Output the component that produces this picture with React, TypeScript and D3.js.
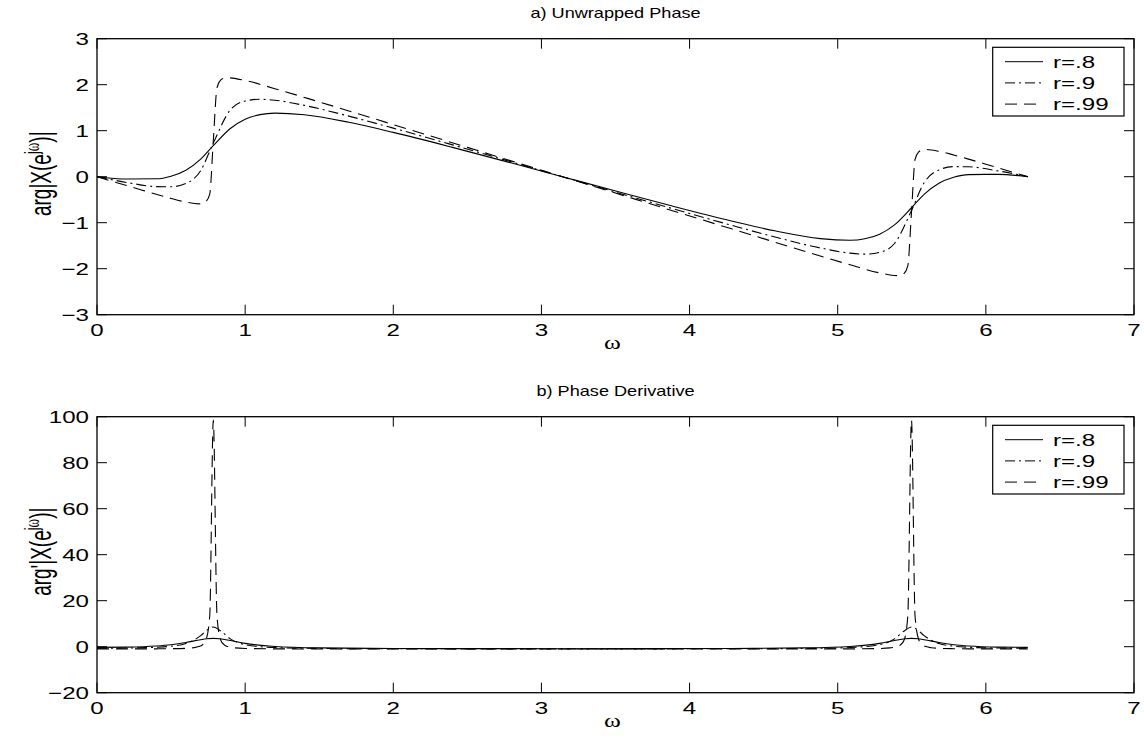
import React from 'react';
import * as d3 from 'd3';

// ---------- data ----------
const xTicks = [0, 1, 2, 3, 4, 5, 6, 7];
const phaseTicks = [-3, -2, -1, 0, 1, 2, 3];
const derivTicks = [-20, 0, 20, 40, 60, 80, 100];
const legendLabels = ['r=.8', 'r=.9', 'r=.99'];

// (a) unwrapped phase, r=.8 and r=.9 share this grid
const phaseOmegaA = [0, 0.2, 0.4, 0.5, 0.6, 0.7, 0.785, 0.9, 1.0, 1.1, 1.2, 1.4, 1.7, 2.0, 2.4, 2.8, 3.1416,
  3.4832, 3.8832, 4.2832, 4.5832, 4.8832, 5.0832, 5.1832, 5.2832, 5.3832, 5.4982, 5.5832, 5.6832, 5.7832, 5.8832, 6.0832, 6.2832];
const phaseR80 = [0, -0.051, -0.046, 0.011, 0.141, 0.383, 0.675, 1.048, 1.251, 1.35, 1.383, 1.347, 1.182, 0.963, 0.638, 0.296, 0,
  -0.296, -0.638, -0.963, -1.182, -1.347, -1.383, -1.35, -1.251, -1.048, -0.675, -0.383, -0.141, -0.011, 0.046, 0.051, 0];
const phaseR90 = [0, -0.125, -0.215, -0.219, -0.148, 0.132, 0.733, 1.452, 1.645, 1.683, 1.662, 1.55, 1.317, 1.056, 0.692, 0.32, 0,
  -0.32, -0.692, -1.056, -1.317, -1.55, -1.662, -1.683, -1.645, -1.452, -0.733, -0.132, 0.148, 0.219, 0.215, 0.125, 0];
// r=.99 needs a finer grid around the jumps
const phaseOmegaB = [0, 0.1, 0.2, 0.3, 0.4, 0.5, 0.6, 0.687, 0.712, 0.736, 0.761, 0.785, 0.81, 0.834, 0.859, 0.883, 1.0, 1.2, 1.5, 2.0, 2.5, 2.8, 3.1416,
  3.4832, 3.7832, 4.2832, 4.7832, 5.0832, 5.2832, 5.4, 5.424, 5.449, 5.473, 5.498, 5.522, 5.547, 5.571, 5.596, 5.683, 5.783, 5.883, 5.983, 6.083, 6.183, 6.2832];
const phaseR99 = [0, -0.097, -0.193, -0.288, -0.382, -0.472, -0.552, -0.591, -0.582, -0.539, -0.377, 0.78, 1.937, 2.1, 2.142, 2.151, 2.091, 1.914, 1.626, 1.133, 0.638, 0.339, 0,
  -0.339, -0.638, -1.133, -1.626, -1.914, -2.091, -2.151, -2.142, -2.1, -1.937, -0.78, 0.377, 0.539, 0.582, 0.591, 0.552, 0.472, 0.382, 0.288, 0.193, 0.097, 0];

// (b) phase derivative
const derivOmegaA = [0, 0.2, 0.4, 0.5, 0.6, 0.7, 0.74, 0.785, 0.83, 0.9, 1.0, 1.2, 1.5, 2.0, 2.5, 3.1416,
  3.7832, 4.2832, 4.7832, 5.0832, 5.2832, 5.3832, 5.4532, 5.4982, 5.5432, 5.5832, 5.6832, 5.7832, 5.8832, 6.0832, 6.2832];
const derivR80 = [-0.292, -0.174, 0.318, 0.869, 1.806, 3.048, 3.44, 3.61, 3.43, 2.663, 1.438, 0.104, -0.516, -0.776, -0.848, -0.87,
  -0.848, -0.776, -0.516, 0.104, 1.438, 2.663, 3.43, 3.61, 3.44, 3.048, 1.806, 0.869, 0.318, -0.174, -0.292];
const derivR90 = [-0.646, -0.577, -0.247, 0.219, 1.394, 4.797, 7.07, 8.552, 7.07, 3.403, 0.895, -0.378, -0.757, -0.893, -0.928, -0.938,
  -0.928, -0.893, -0.757, -0.378, 0.895, 3.403, 7.07, 8.552, 7.07, 4.797, 1.394, 0.219, -0.247, -0.577, -0.646];
const derivOmegaB = [0, 0.2, 0.4, 0.5, 0.6, 0.65, 0.687, 0.712, 0.736, 0.761, 0.785, 0.81, 0.834, 0.859, 0.883, 0.93, 1.0, 1.2, 1.5, 2.0, 3.1416,
  4.2832, 4.7832, 5.0832, 5.2832, 5.3532, 5.4, 5.424, 5.449, 5.473, 5.498, 5.522, 5.547, 5.571, 5.596, 5.633, 5.683, 5.783, 5.883, 6.083, 6.2832];
const derivR99 = [-0.966, -0.959, -0.924, -0.869, -0.701, -0.448, 0.041, 0.827, 3.022, 13.34, 98.5, 13.34, 3.022, 0.827, 0.041, -0.517, -0.777, -0.937, -0.976, -0.989, -0.99,
  -0.989, -0.976, -0.937, -0.777, -0.517, 0.041, 0.827, 3.022, 13.34, 98.5, 13.34, 3.022, 0.827, 0.041, -0.448, -0.701, -0.869, -0.924, -0.959, -0.966];

// ---------- layout ----------
const W = 1144;
const H = 738;
const LEFT = 97;
const RIGHT = 1134;
const PANEL_H = 276;
const SX = 1.42; // horizontal stretch of the text in the reference
const SANS = '"Liberation Sans", Arial, Helvetica, sans-serif';
const SERIF = '"Liberation Serif", "Times New Roman", serif';
const DASHES = ['none', '10,4,2,4', '12,7'];

type Series = { xs: number[]; ys: number[] };

function SText(props: { x: number; y: number; anchor?: string; size: number; rotate?: boolean; family?: string; sx?: number; children: React.ReactNode }) {
  const { x, y, anchor = 'start', size, rotate, family = SANS, sx = SX, children } = props;
  return (
    <text
      transform={`translate(${x},${y}) scale(${sx},1)${rotate ? ' rotate(-90)' : ''}`}
      textAnchor={anchor}
      fontSize={size}
      fontFamily={family}
      fill="#000"
    >
      {children}
    </text>
  );
}

function Panel(props: {
  top: number;
  yDomain: [number, number];
  yTicks: number[];
  title: string;
  prime: boolean;
  series: Series[];
}) {
  const { top, yDomain, yTicks, title, prime, series } = props;
  const x = d3.scaleLinear().domain([0, 7]).range([LEFT, RIGHT]);
  const y = d3.scaleLinear().domain(yDomain).range([top + PANEL_H, top]);
  const line = d3
    .line<[number, number]>()
    .x((d) => x(d[0]))
    .y((d) => y(d[1]))
    .curve(d3.curveMonotoneX);
  const bottom = top + PANEL_H;
  const tickLen = 10;
  const fmt = (v: number) => (v < 0 ? '\u2212' + Math.abs(v) : String(v));
  const legTop = top + 8.6;
  return (
    <g>
      {/* title */}
      <SText x={(LEFT + RIGHT) / 2} y={top - 21} anchor="middle" size={14.5} sx={1.25}>
        {title}
      </SText>
      {/* curves */}
      {series.map((s, i) => (
        <path
          key={i}
          d={line(s.xs.map((v, k) => [v, s.ys[k]] as [number, number])) || ''}
          fill="none"
          stroke="#000"
          strokeWidth={1.1}
          strokeDasharray={DASHES[i]}
        />
      ))}
      {/* box */}
      <rect x={LEFT} y={top} width={RIGHT - LEFT} height={PANEL_H} fill="none" stroke="#000" strokeWidth={1.3} />
      {/* x ticks */}
      {xTicks.map((t) => (
        <g key={'x' + t}>
          <line x1={x(t)} x2={x(t)} y1={bottom} y2={bottom - tickLen} stroke="#000" />
          <line x1={x(t)} x2={x(t)} y1={top} y2={top + tickLen} stroke="#000" />
          <SText x={x(t)} y={bottom + 21} anchor="middle" size={17}>
            {String(t)}
          </SText>
        </g>
      ))}
      {/* y ticks */}
      {yTicks.map((t) => (
        <g key={'y' + t}>
          <line x1={LEFT} x2={LEFT + tickLen} y1={y(t)} y2={y(t)} stroke="#000" />
          <line x1={RIGHT} x2={RIGHT - tickLen} y1={y(t)} y2={y(t)} stroke="#000" />
          <SText x={89} y={y(t) + 6} anchor="end" size={17}>
            {fmt(t)}
          </SText>
        </g>
      ))}
      {/* x label */}
      <SText x={(LEFT + RIGHT) / 2 - 3} y={bottom + 34} anchor="middle" size={18} family={SERIF}>
        ω
      </SText>
      {/* y label */}
      <SText x={51} y={top + PANEL_H / 2 - 3} anchor="middle" size={19} sx={1.55} rotate>
        {prime ? "arg'|X(e" : 'arg|X(e'}
        <tspan dy={-8} fontSize={13}>j</tspan>
        <tspan fontSize={13} fontFamily={SERIF}>ω</tspan>
        <tspan dy={8}>)|</tspan>
      </SText>
      {/* legend */}
      <rect x={992.7} y={legTop} width={131.3} height={68.7} fill="#fff" stroke="#000" strokeWidth={1.2} />
      {legendLabels.map((lab, i) => {
        const ly = legTop + 14.4 + i * 21.2;
        return (
          <g key={lab}>
            <line x1={1005} x2={1043} y1={ly} y2={ly} stroke="#000" strokeWidth={1} strokeDasharray={DASHES[i]} />
            <SText x={1053} y={ly + 6} size={17}>
              {lab}
            </SText>
          </g>
        );
      })}
    </g>
  );
}

export default function App() {
  const phaseSeries: Series[] = [
    { xs: phaseOmegaA, ys: phaseR80 },
    { xs: phaseOmegaA, ys: phaseR90 },
    { xs: phaseOmegaB, ys: phaseR99 },
  ];
  const derivSeries: Series[] = [
    { xs: derivOmegaA, ys: derivR80 },
    { xs: derivOmegaA, ys: derivR90 },
    { xs: derivOmegaB, ys: derivR99 },
  ];
  return (
    <svg
      width={W}
      height={H}
      viewBox={`0 0 ${W} ${H}`}
      style={{ position: 'absolute', left: 0, top: 0, background: '#fff', display: 'block' }}
    >
      <rect x={0} y={0} width={W} height={H} fill="#fff" />
      <Panel top={38.7} yDomain={[-3, 3]} yTicks={phaseTicks} title="a) Unwrapped Phase" prime={false} series={phaseSeries} />
      <Panel top={416.7} yDomain={[-20, 100]} yTicks={derivTicks} title="b) Phase Derivative" prime={true} series={derivSeries} />
    </svg>
  );
}
